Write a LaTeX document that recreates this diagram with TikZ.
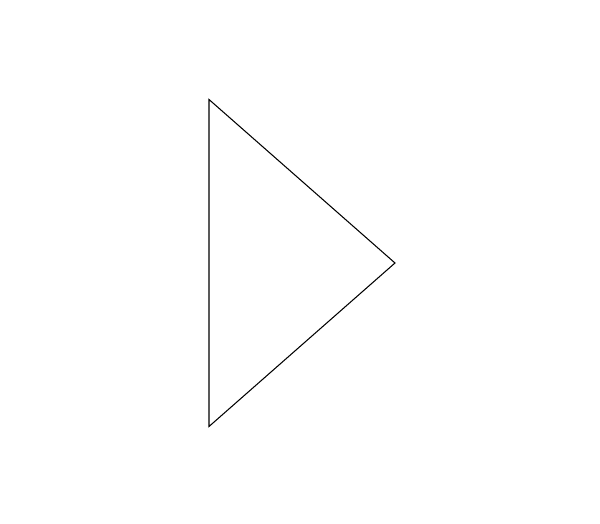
\documentclass[tikz,border=0pt]{standalone}
\usepackage{tikz}
\begin{document}
\begin{tikzpicture}[x=0.02cm,y=-0.02cm]
\useasboundingbox(0,0)rectangle(600,524);
%triangle
\coordinate(top)at(209,99.5);
\coordinate(tip)at(395,263);
\coordinate(bottom)at(209,426.5);
\draw[line width=.6pt](top)--(tip)--(bottom)--cycle;
\end{tikzpicture}
\end{document}
